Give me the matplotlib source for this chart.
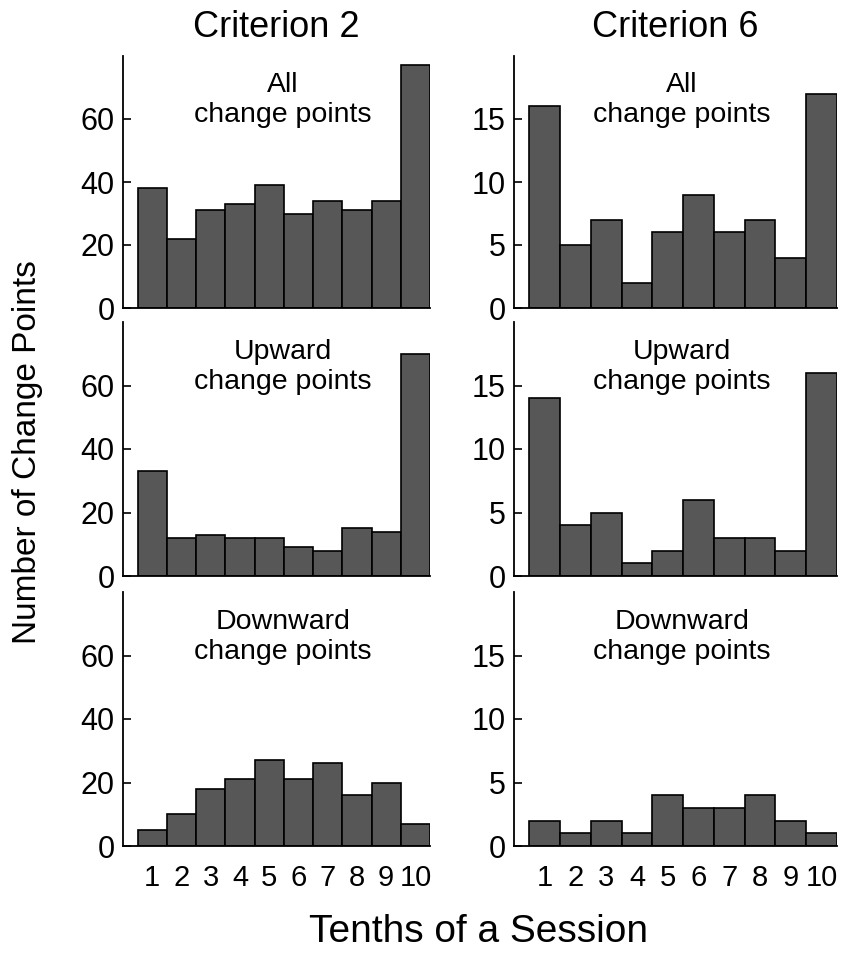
import matplotlib.pyplot as plt
import numpy as np

plt.rcParams.update({
    'font.family': ['Liberation Sans', 'DejaVu Sans'],
    'font.size': 20,
    'axes.linewidth': 1.3,
})

# Data
tenths = [1, 2, 3, 4, 5, 6, 7, 8, 9, 10]
tick_labels = ['1', '2', '3', '4', '5', '6', '7', '8', '9', '10']
column_titles = ['Criterion 2', 'Criterion 6']
row_labels = ['All\nchange points', 'Upward\nchange points', 'Downward\nchange points']

crit2_all = [38, 22, 31, 33, 39, 30, 34, 31, 34, 77]
crit2_up = [33, 12, 13, 12, 12, 9, 8, 15, 14, 70]
crit2_down = [5, 10, 18, 21, 27, 21, 26, 16, 20, 7]

crit6_all = [16, 5, 7, 2, 6, 9, 6, 7, 4, 17]
crit6_up = [14, 4, 5, 1, 2, 6, 3, 3, 2, 16]
crit6_down = [2, 1, 2, 1, 4, 3, 3, 4, 2, 1]

crit2_yticks = [0, 20, 40, 60]
crit6_yticks = [0, 5, 10, 15]

W, H = 844, 956
fig = plt.figure(figsize=(W / 100, H / 100), dpi=100)

# axes boxes in pixels: (left, right) per column, (top, bottom) per row
col_px = [(123, 430), (514, 837)]
row_px = [(56, 308), (322, 576), (592, 846)]

columns = [
    ([crit2_all, crit2_up, crit2_down], crit2_yticks, 80),
    ([crit6_all, crit6_up, crit6_down], crit6_yticks, 20),
]

for c, (series, yticks, ymax) in enumerate(columns):
    x0, x1 = col_px[c]
    for r, values in enumerate(series):
        top, bot = row_px[r]
        ax = fig.add_axes([x0 / W, 1 - bot / H, (x1 - x0) / W, (bot - top) / H])
        ax.bar(tenths, values, width=1.0, color='#575757',
               edgecolor='black', linewidth=1.2)
        ax.set_xlim(0, 10.5)
        ax.set_ylim(0, ymax)
        ax.spines['top'].set_visible(False)
        ax.spines['right'].set_visible(False)
        ax.set_yticks(yticks)
        ax.tick_params(axis='y', direction='in', length=6, width=1.2,
                       pad=6, labelsize=22)
        ax.set_xticks(tenths)
        if r == 2:
            ax.set_xticklabels(tick_labels)
            ax.tick_params(axis='x', length=0, pad=13, labelsize=21)
        else:
            ax.tick_params(axis='x', length=0, labelbottom=False)
        ax.text(0.52, 0.935, row_labels[r], transform=ax.transAxes,
                ha='center', va='top', fontsize=20.5, linespacing=1.2)
        if r == 0:
            ax.set_title(column_titles[c], fontsize=26, pad=14)

fig.text(28 / W, 1 - 452 / H, 'Number of Change Points', rotation=90,
         ha='center', va='center', fontsize=24)
fig.text(479 / W, 1 - 932 / H, 'Tenths of a Session',
         ha='center', va='center', fontsize=28)

plt.savefig('out.png', dpi=100)
